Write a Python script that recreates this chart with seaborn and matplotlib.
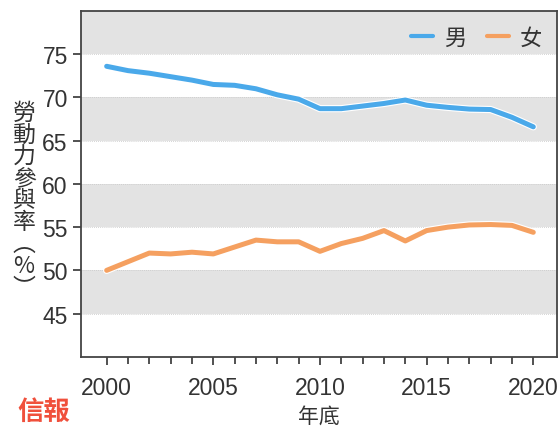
import pandas as pd
import matplotlib.pyplot as plt
import matplotlib.patheffects as pe
import seaborn as sns

# data
years = list(range(2000, 2021))
male = [73.6, 73.1, 72.8, 72.4, 72.0, 71.5, 71.4, 71.0, 70.3, 69.8, 68.7,
        68.7, 69.0, 69.3, 69.7, 69.1, 68.85, 68.65, 68.6, 67.7, 66.6]
female = [50.0, 51.0, 52.0, 51.9, 52.1, 51.9, 52.7, 53.5, 53.3, 53.3, 52.2,
          53.1, 53.7, 54.6, 53.4, 54.6, 55.0, 55.25, 55.3, 55.2, 54.4]
series_names = ['男', '女']
ytick_vals = [45, 50, 55, 60, 65, 70, 75]
xtick_labels = [2000, 2005, 2010, 2015, 2020]

df = pd.DataFrame({
    'year': years * 2,
    'rate': male + female,
    'sex': [series_names[0]] * len(years) + [series_names[1]] * len(years),
})

sns.set_style('ticks')
plt.rcParams['font.family'] = ['Liberation Sans', 'Noto Sans CJK TC', 'DejaVu Sans']

blue = '#4aa9ea'
orange = '#f5a060'
text_col = '#333333'

fig = plt.figure(figsize=(5.59, 4.27), dpi=100)
ax = fig.add_axes([0.145, 0.162, 0.851, 0.81])

# alternating bands
for lo in range(40, 80, 10):
    ax.axhspan(lo + 5, lo + 10, color='#e3e3e3', zorder=0, lw=0)
for v in range(45, 80, 5):
    ax.axhline(v, color='#c8c8c8', lw=0.6, ls=(0, (1, 1.5)), zorder=0.5)

sns.lineplot(data=df, x='year', y='rate', hue='sex',
             palette={'男': blue, '女': orange}, linewidth=3.6, ax=ax,
             legend=False, zorder=3)
for line in ax.lines[-2:]:
    line.set_solid_capstyle('round')
    line.set_path_effects([pe.Stroke(linewidth=5.2, foreground='white'), pe.Normal()])

ax.set_xlim(1998.8, 2021.1)
ax.set_ylim(40, 80)
ax.set_xticks(years, minor=True)
ax.set_xticks(xtick_labels)
ax.set_yticks(ytick_vals)
ax.tick_params(axis='both', which='major', labelsize=16.5, colors=text_col,
               length=6, width=1.2, direction='out')
ax.tick_params(axis='x', which='minor', length=5, width=1.2, color=text_col)
ax.tick_params(axis='x', pad=8)
for s in ax.spines.values():
    s.set_color('#444444')
    s.set_linewidth(1.3)

ax.set_xlabel('年底', fontsize=15, color=text_col, family=['Noto Sans CJK TC'], labelpad=4)
ax.set_ylabel('')

# vertical stacked y label
fig.text(0.043, 0.53, '\n'.join('勞動力參與率︵%︶'), fontsize=16.5, color=text_col,
         family=['Noto Sans CJK TC', 'DejaVu Sans'], ha='center', va='center',
         linespacing=0.94)

# legend
handles = [plt.Line2D([], [], color=blue, lw=3), plt.Line2D([], [], color=orange, lw=3)]
leg = ax.legend(handles, series_names, loc='upper right', ncol=2, frameon=False,
                handlelength=1.0, handletextpad=0.5, columnspacing=0.9,
                borderaxespad=0.25, prop={'family': 'Noto Sans CJK TC', 'size': 16})
for t in leg.get_texts():
    t.set_color(text_col)

# logo
fig.text(0.032, 0.035, '信報', fontsize=19, color='#f0503c', weight='bold',
         family=['Noto Sans CJK TC'], ha='left', va='center')

fig.savefig('out.png', dpi=100, facecolor='white')
